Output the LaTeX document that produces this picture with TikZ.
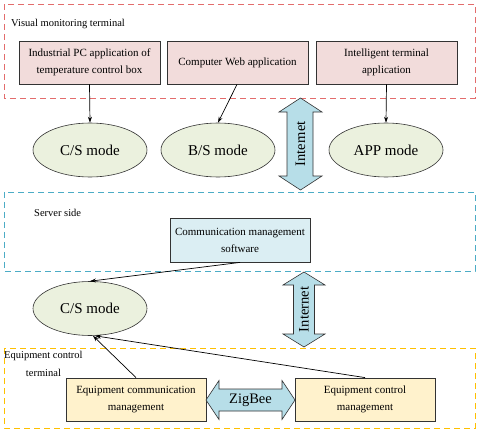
\documentclass[tikz,border=0pt]{standalone}
\usepackage{fontspec}
\setmainfont{Liberation Serif}
\usetikzlibrary{shapes.geometric,arrows.meta}
\definecolor{redd}{HTML}{E36C6C}
\definecolor{blued}{HTML}{4BACC6}
\definecolor{yelld}{HTML}{FFC000}
\definecolor{pinkf}{HTML}{F2DCDB}
\definecolor{ellf}{HTML}{EBF1DE}
\definecolor{servf}{HTML}{DBEEF3}
\definecolor{arrf}{HTML}{B7DEE8}
\definecolor{yellf}{HTML}{FFF2CC}
\tikzset{
  grp/.style={draw, dashed, dash pattern=on 6pt off 4pt, line width=0.9pt},
  appbox/.style={draw=black!80, line width=0.8pt, minimum width=141pt, minimum height=43pt, align=center, font=\fontsize{11}{17}\selectfont, inner sep=1pt},
  mode/.style={draw=black!80, ellipse, line width=0.6pt, fill=ellf, minimum width=114pt, minimum height=54pt, font=\fontsize{15}{17}\selectfont, inner sep=0pt},
  conn/.style={-{Stealth[length=6pt,width=4pt]}, line width=0.7pt},
  grplabel/.style={anchor=west, font=\fontsize{10.5}{13}\selectfont, inner sep=0pt},
  dblarrow/.style={draw=black!80, fill=arrf, line width=0.6pt, line join=miter},
  arrtext/.style={font=\fontsize{14.5}{17}\selectfont, inner sep=0pt}
}
\begin{document}
\begin{tikzpicture}[x=1pt,y=-1pt]
\useasboundingbox (0,0) rectangle (480,434);
\fill[white] (0,0) rectangle (480,434);
% groups
\draw[grp, draw=redd] (4,4) rectangle (475,98);
\node[grplabel] (lv) at (11,24) {Visual monitoring terminal};
\draw[grp, draw=blued] (4,192) rectangle (475,271);
\node[grplabel] (ls) at (34,213) {Server side};
\draw[grp, draw=yelld] (4,348) rectangle (475,428);
\node[grplabel, align=center, anchor=north west, font=\fontsize{10.5}{18}\selectfont] (le) at (4,351) {Equipment control\\terminal};
% top boxes
\node[appbox, fill=pinkf] (b1) at (89.5,62.5) {Industrial PC application of\\temperature control box};
\node[appbox, fill=pinkf] (b2) at (237.5,62.5) {Computer Web application};
\node[appbox, fill=pinkf] (b3) at (386.5,62.5) {Intelligent terminal\\application};
% ellipses
\node[mode] (e1) at (90,150) {C/S mode};
\node[mode] (e2) at (218,150) {B/S mode};
\node[mode] (e3) at (386,150) {APP mode};
\draw[conn] (b1.south) -- (e1.north);
\draw[conn] ([xshift=-0.5pt]b2.south) -- (e2.north);
\draw[conn] (b3.south) -- (e3.north);
% internet arrow 1
\draw[dblarrow] (300.5,98) -- (322,112) -- (313,112) -- (313,176) -- (322,176) -- (300.5,190) -- (279,176) -- (287,176) -- (287,112) -- (279,112) -- cycle;
\node[rotate=90, arrtext] (t1) at (300.5,144) {Internet};
% server
\node[appbox, fill=servf, minimum width=140pt, minimum height=44pt] (srv) at (240,240) {Communication management\\software};
\node[mode] (e4) at (90,308.5) {C/S mode};
\draw[conn] (srv.south) -- (e4.north);
% internet arrow 2
\draw[dblarrow] (304,272) -- (325,285) -- (314.5,285) -- (314.5,334) -- (325,334) -- (304,347) -- (283,334) -- (293.5,334) -- (293.5,285) -- (283,285) -- cycle;
\node[rotate=90, arrtext] (t2) at (304,309.5) {Internet};
% equipment
\node[appbox, fill=yellf, minimum width=140pt] (q1) at (136,399.5) {Equipment communication\\management};
\node[appbox, fill=yellf, minimum width=140pt] (q2) at (365,399.5) {Equipment control\\management};
\draw[dblarrow] (206,400) -- (219,380.5) -- (219,389) -- (282,389) -- (282,380.5) -- (295,400) -- (282,419.5) -- (282,411) -- (219,411) -- (219,419.5) -- cycle;
\node[arrtext] (tz) at (250.5,400) {ZigBee};
\draw[conn] (q1.north) -- ([xshift=3pt]e4.south);
\draw[conn] (q2.north) -- ([xshift=5pt]e4.south);
\end{tikzpicture}
\end{document}
